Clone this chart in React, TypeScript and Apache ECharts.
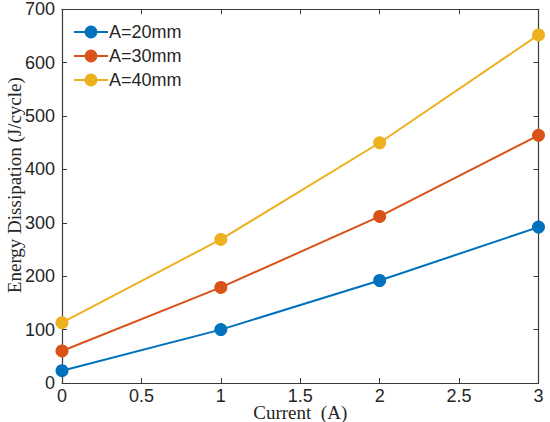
import React, { useEffect, useRef } from "react";
import * as echarts from "echarts";

const currents = [0, 1, 2, 3];
const seriesNames = ["A=20mm", "A=30mm", "A=40mm"];
const a20 = [23, 100, 192, 292];
const a30 = [60, 179, 312, 464];
const a40 = [113, 269, 450, 652];
const colors = ["#0072BD", "#D95319", "#EDB120"];

const xTitle = "Current  (A)";
const yTitle = "Energy Dissipation (J/cycle)";

const axisColor = "#3a3a3a";
const textColor = "#262626";

export default function App() {
  const ref = useRef<HTMLDivElement>(null);
  useEffect(() => {
    if (!ref.current) return;
    const chart = echarts.init(ref.current, undefined, { renderer: "svg" });
    const values = [a20, a30, a40];
    const series = values.map((vals, i) => ({
      name: seriesNames[i],
      type: "line",
      data: currents.map((c, j) => [c, vals[j]]),
      symbol: "circle",
      symbolSize: 13,
      color: colors[i],
      lineStyle: { width: 2, color: colors[i] },
      itemStyle: { color: colors[i] },
      xAxisIndex: 0,
      yAxisIndex: 0,
    }));
    const hiddenAxisCommon = {
      axisLine: { show: true, onZero: false, lineStyle: { color: axisColor, width: 1.2 } },
      axisTick: { show: true, inside: true, length: 5, lineStyle: { color: axisColor } },
      axisLabel: { show: false },
      splitLine: { show: false },
    };
    chart.setOption({
      animation: false,
      backgroundColor: "#ffffff",
      grid: { left: 62, right: 11.5, top: 9.3, bottom: 39, containLabel: false, outerBoundsMode: "none" },
      legend: {
        orient: "vertical",
        left: 68,
        top: 18,
        itemWidth: 34,
        itemHeight: 16,
        itemGap: 6,
        textStyle: {
          fontFamily: "Liberation Sans, Arial",
          fontSize: 18,
          color: textColor,
          padding: [0, 0, 0, -4],
        },
        data: seriesNames,
      },
      xAxis: [
        {
          type: "value",
          min: 0,
          max: 3,
          interval: 0.5,
          name: xTitle,
          nameLocation: "middle",
          nameGap: 21,
          nameMoveOverlap: false,
          nameTextStyle: {
            fontFamily: "Liberation Serif, Times New Roman",
            fontSize: 19,
            lineHeight: 17,
            color: textColor,
          },
          axisLine: { show: true, onZero: false, lineStyle: { color: axisColor, width: 1.2 } },
          axisTick: { show: true, inside: true, length: 5, lineStyle: { color: axisColor } },
          axisLabel: {
            fontFamily: "Liberation Sans, Arial",
            fontSize: 18,
            lineHeight: 16,
            color: textColor,
            margin: 5,
          },
          splitLine: { show: false },
        },
        {
          type: "value",
          position: "top",
          min: 0,
          max: 3,
          interval: 0.5,
          ...hiddenAxisCommon,
        },
      ],
      yAxis: [
        {
          type: "value",
          min: 0,
          max: 700,
          interval: 100,
          name: yTitle,
          nameLocation: "middle",
          nameGap: 38,
          nameMoveOverlap: false,
          nameTextStyle: {
            fontFamily: "Liberation Serif, Times New Roman",
            fontSize: 19,
            color: textColor,
            padding: [0, 0, 0, 22],
          },
          axisLine: { show: true, onZero: false, lineStyle: { color: axisColor, width: 1.2 } },
          axisTick: { show: true, inside: true, length: 5, lineStyle: { color: axisColor } },
          axisLabel: {
            fontFamily: "Liberation Sans, Arial",
            fontSize: 18,
            color: textColor,
            margin: 7,
          },
          splitLine: { show: false },
        },
        {
          type: "value",
          position: "right",
          min: 0,
          max: 700,
          interval: 100,
          ...hiddenAxisCommon,
        },
      ],
      series,
    });
    return () => chart.dispose();
  }, []);
  return <div ref={ref} style={{ width: 550, height: 422, position: "absolute", left: 0, top: 0 }} />;
}
